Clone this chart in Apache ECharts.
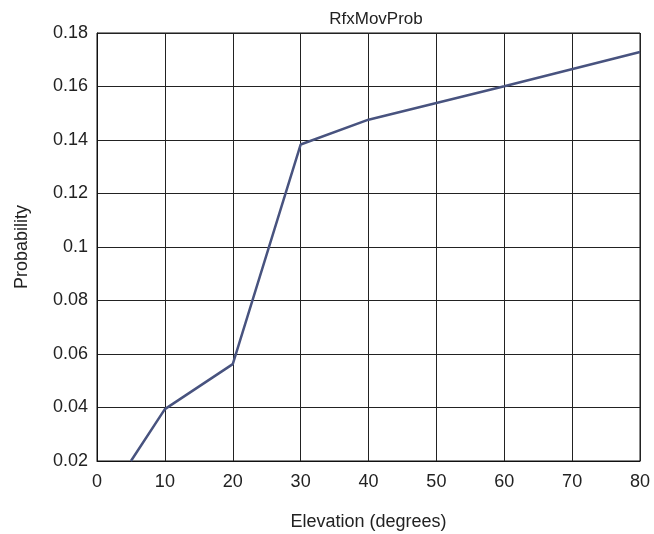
<!DOCTYPE html>
<html>
<head>
<meta charset="utf-8">
<script src="https://cdn.jsdelivr.net/npm/echarts@6/dist/echarts.min.js"></script>
<style>
  html, body { margin: 0; padding: 0; background: #fff; }
  #chart { width: 654px; height: 534px; }
</style>
</head>
<body>
<div id="chart"></div>
<script>
// elevation (deg) vs probability
var elevation = [5, 10, 20, 30, 40, 60, 80];
var probability = [0.02, 0.0394, 0.0562, 0.1383, 0.1476, 0.1601, 0.1729];

var points = [];
for (var i = 0; i < elevation.length; i++) {
	points.push([elevation[i], probability[i]]);
}

var chart = echarts.init(document.getElementById("chart"));

var font = 'Liberation Sans, Arial, sans-serif';

var option = {
	animation: false,
	backgroundColor: '#fff',
	title: {
		text: 'RfxMovProb',
		left: 371,
		textAlign: 'center',
		top: 6,
		textStyle: { fontFamily: font, fontSize: 17, fontWeight: 'normal', color: '#222' }
	},
	grid: {
		left: 97, right: 14, top: 33, bottom: 73,
		outerBoundsMode: 'none',
		containLabel: false,
		show: true, borderColor: '#111', borderWidth: 1
	},
	xAxis: {
		type: 'value',
		min: 0, max: 80, interval: 10,
		name: 'Elevation (degrees)',
		nameLocation: 'middle',
		nameGap: 52,
		nameTextStyle: { fontFamily: font, fontSize: 18, color: '#222' },
		axisLine: { show: true, lineStyle: { color: '#111', width: 1 } },
		axisTick: { show: false },
		axisLabel: { fontFamily: font, fontSize: 18, color: '#222', margin: 12 },
		splitLine: { show: true, lineStyle: { color: '#222', width: 1 } }
	},
	yAxis: {
		type: 'value',
		min: 0.02, max: 0.18, interval: 0.02,
		name: 'Probability',
		nameLocation: 'middle',
		nameGap: 66,
		nameTextStyle: { fontFamily: font, fontSize: 18, color: '#222' },
		axisLine: { show: true, lineStyle: { color: '#111', width: 1 } },
		axisTick: { show: false },
		axisLabel: { fontFamily: font, fontSize: 18, color: '#222', margin: 9 },
		splitLine: { show: true, lineStyle: { color: '#222', width: 1 } }
	},
	series: [
		{
			type: 'line',
			data: points,
			showSymbol: false,
			symbol: 'none',
			lineStyle: { color: '#48537f', width: 2.5 },
			clip: true
		}
	]
};
chart.setOption(option);
</script>
</body>
</html>
